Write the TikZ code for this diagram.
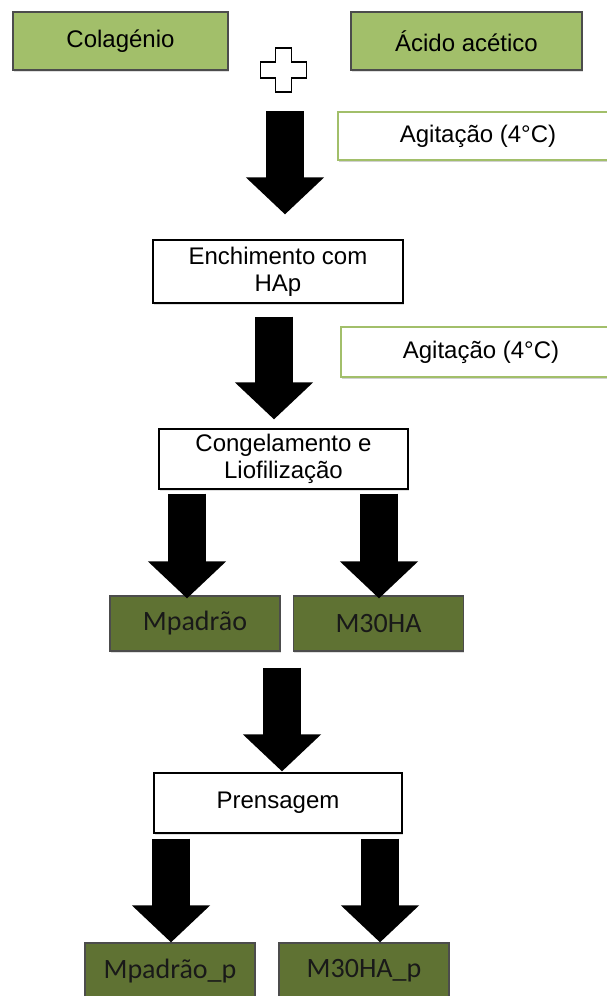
\documentclass[tikz,border=0pt]{standalone}
\usepackage{fontspec}
\setmainfont{Liberation Sans}
\newfontfamily\calibri{Carlito}
\usetikzlibrary{arrows.meta,calc,shadows}

\definecolor{verdeclaro}{HTML}{A2BF6A}
\definecolor{verdeescuro}{HTML}{5F7233}

\begin{document}
\begin{tikzpicture}[x=1pt,y=-1pt,
		caixa/.style={draw=black, line width=1.2pt, fill=white, align=center, inner sep=0pt,
			font=\fontsize{24}{27}\selectfont, minimum width=250pt, minimum height=61pt,
			drop shadow={opacity=0.25, shadow xshift=0.5pt, shadow yshift=-2pt}},
		materia/.style={caixa, fill=verdeclaro, draw=black!70, minimum height=58pt},
		amostra/.style={caixa, fill=verdeescuro, draw=black!70, minimum width=170pt, minimum height=56pt,
			font=\calibri\fontsize{28}{30}\selectfont, text=black!90},
		agitacao/.style={caixa, draw=verdeclaro, line width=2pt, minimum width=280pt, minimum height=48pt,
			drop shadow={opacity=0.15, shadow xshift=0.5pt, shadow yshift=-1.5pt}},
		seta/.style={black, line width=38pt, -{Triangle[width=76pt, length=37pt]}}
	]
	\useasboundingbox (0,0) rectangle (607,996);
	
	% Caixas
	\node[materia, minimum width=215pt] (col) at (120.5,41) {Colagénio};
	\node[materia, minimum width=231pt] (acido) at (466.5,41) {Ácido acético};
	\node[minimum size=46pt, inner sep=0pt] (plus) at (283.5,70) {};
	\node[agitacao] (agit1) at (478,136) {Agitação (4°C)};
	\node[caixa, minimum height=63pt] (ench) at (278,271.5) {Enchimento com\\HAp};
	\node[agitacao, minimum height=50pt] (agit2) at (481,352) {Agitação (4°C)};
	\node[caixa, minimum width=249pt, minimum height=60pt] (cong) at (283.5,459) {Congelamento e\\Liofilização};
	\node[amostra, minimum height=55pt] (mpad) at (195,623.5) {Mpadrão};
	\node[amostra, minimum height=55pt] (m30) at (378.5,623.5) {M30HA};
	\node[caixa, minimum width=248pt, minimum height=60pt] (pren) at (278,803) {Prensagem};
	\node[amostra] (mpadp) at (170,971) {Mpadrão\_p};
	\node[amostra] (m30p) at (364,971) {M30HA\_p};
	
	% Sinal de mais
	\draw[line width=1.2pt, fill=white] ($(plus)+(-8,-22)$) -- ++(16,0) -- ++(0,14) -- ++(15,0) -- ++(0,16)
		-- ++(-15,0) -- ++(0,14) -- ++(-16,0) -- ++(0,-14) -- ++(-15,0) -- ++(0,-16) -- ++(15,0) -- cycle;
	
	% Setas
	\draw[seta] ($(plus.south)+(1.5,18)$) -- ($(ench.north)+(7,-25)$);
	\draw[seta] ($(ench.south)+(-4,13)$) -- ($(cong.north)+(-9.5,-9)$);
	\draw[seta] ($(cong.south)+(-96.5,4)$) -- ($(mpad.north)+(-8,3)$);
	\draw[seta] ($(cong.south)+(95.5,4)$) -- ($(m30.north)+(0.5,3)$);
	\draw[seta] ($($(mpad.south)!0.5!(m30.south)$)+(-4.75,16)$) -- ($(pren.north)+(4,-1)$);
	\draw[seta] ($(pren.south)+(-107,5)$) -- ($(mpadp.north)+(1,0)$);
	\draw[seta] ($(pren.south)+(102,5)$) -- ($(m30p.north)+(16,0)$);
\end{tikzpicture}
\end{document}
